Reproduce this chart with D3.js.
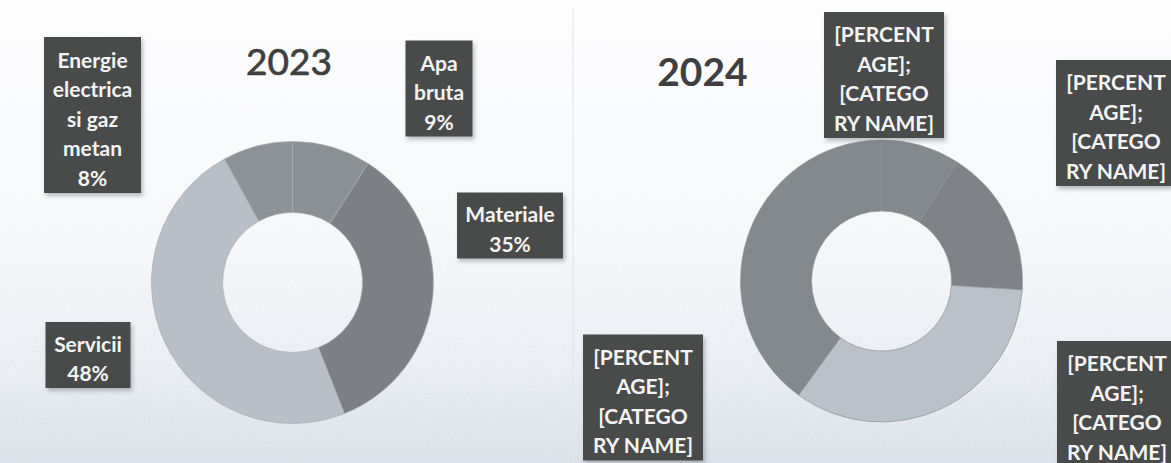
<!DOCTYPE html>
<html>
<head>
<meta charset="utf-8">
<script src="https://cdn.jsdelivr.net/npm/d3@7/dist/d3.min.js"></script>
<style>
  html, body { margin: 0; padding: 0; background: #ffffff; }
  svg { display: block; }
</style>
</head>
<body>
<svg id="chart" width="1171" height="463"></svg>
<script>
// ---------------- DATA ----------------
const categories = ["Apa bruta", "Materiale", "Servicii", "Energie electrica si gaz metan"];
const values2023 = [9, 35, 48, 8];
const values2024 = [9, 17, 34, 40];
const years = ["2023", "2024"];
// label text lines (category part) for 2023; 2024 shows unfilled placeholders
const labelLines2023 = [["Apa", "bruta"], ["Materiale"], ["Servicii"], ["Energie", "electrica", "si gaz", "metan"]];
const placeholderLines = ["[PERCENT", "AGE];", "[CATEGO", "RY NAME]"];

// ---------------- LAYOUT / STYLE ----------------
const W = 1171, H = 463;
const svg = d3.select("#chart");
const defs = svg.append("defs");

const bg = defs.append("linearGradient").attr("id", "bg").attr("x1", 0).attr("y1", 0).attr("x2", 0).attr("y2", 1);
bg.append("stop").attr("offset", "0%").attr("stop-color", "#fdfdfe");
bg.append("stop").attr("offset", "50%").attr("stop-color", "#f7f8fa");
bg.append("stop").attr("offset", "80%").attr("stop-color", "#eceff3");
bg.append("stop").attr("offset", "100%").attr("stop-color", "#dde3ea");

const sh = defs.append("filter").attr("id", "shadow").attr("x", "-20%").attr("y", "-20%").attr("width", "140%").attr("height", "140%");
sh.append("feDropShadow").attr("dx", 2).attr("dy", 3).attr("stdDeviation", 2)
  .attr("flood-color", "#6a7078").attr("flood-opacity", 0.45);

// scan-like speckle
const nz = defs.append("filter").attr("id", "noise").attr("x", 0).attr("y", 0).attr("width", "100%").attr("height", "100%");
nz.append("feTurbulence").attr("type", "fractalNoise").attr("baseFrequency", 0.9).attr("numOctaves", 2).attr("seed", 3).attr("result", "t");
nz.append("feColorMatrix").attr("in", "t").attr("type", "matrix")
  .attr("values", "0 0 0 0 0.62  0 0 0 0 0.68  0 0 0 0 0.76  0 0 0 -2.2 1.25");

const fade = defs.append("linearGradient").attr("id", "fade").attr("x1", 0).attr("y1", 0).attr("x2", 0).attr("y2", 1);
fade.append("stop").attr("offset", "0%").attr("stop-color", "#fff").attr("stop-opacity", 0);
fade.append("stop").attr("offset", "55%").attr("stop-color", "#fff").attr("stop-opacity", 0.15);
fade.append("stop").attr("offset", "100%").attr("stop-color", "#fff").attr("stop-opacity", 0.9);
const mask = defs.append("mask").attr("id", "noiseMask");
mask.append("rect").attr("width", W).attr("height", H).attr("fill", "url(#fade)");

svg.append("rect").attr("width", W).attr("height", H).attr("fill", "url(#bg)");
svg.append("rect").attr("width", W).attr("height", H).attr("filter", "url(#noise)").attr("mask", "url(#noiseMask)").attr("opacity", 0.55);
// divider between the two pasted charts
svg.append("line").attr("x1", 573).attr("x2", 573).attr("y1", 8).attr("y2", H)
  .attr("stroke", "#e3e7eb").attr("stroke-width", 1.2);

const charts = [
  {
    values: values2023,
    cx: 292.5, cy: 282.5,
    colors: ["#8b9095", "#7c8085", "#b8bfc6", "#8d9297"],
    stroke: "#a9aeb3",
    title: { text: years[0], x: 289, y: 75, size: 37, weight: 400, sw: 0.7 },
    labels: values2023.map((v, i) => labelLines2023[i].concat([v + "%"])),
    offsets: [[146.5, -194], [217.5, -57], [-204.5, 72.5], [-200, -167.5]],
    fixedWidth: null
  },
  {
    values: values2024,
    cx: 881.5, cy: 281,
    colors: ["#84898e", "#7f8388", "#bac1c8", "#84898e"],
    stroke: "#8e9398",
    title: { text: years[1], x: 702.5, y: 86, size: 39, weight: 700, sw: 0 },
    labels: values2024.map(() => placeholderLines),
    offsets: [[2.5, -206], [234.5, -158], [235.5, 123], [-238.5, 116.5]],
    fixedWidth: 120
  }
];

const outerR = 141, innerR = 70;
const pie = d3.pie().sort(null).value(d => d);
const arc = d3.arc().innerRadius(innerR).outerRadius(outerR);
const lineH = 29.5, fontSize = 21;

charts.forEach(c => {
  const g = svg.append("g").attr("transform", `translate(${c.cx},${c.cy})`);
  g.selectAll("path.slice")
    .data(pie(c.values))
    .join("path")
    .attr("class", "slice")
    .attr("d", arc)
    .attr("fill", (d, i) => c.colors[i])
    .attr("stroke", c.stroke)
    .attr("stroke-width", 0.7);

  svg.append("text")
    .attr("x", c.title.x).attr("y", c.title.y)
    .attr("text-anchor", "middle")
    .attr("font-family", "Lato, 'Open Sans', sans-serif")
    .attr("font-size", c.title.size)
    .attr("font-weight", c.title.weight)
    .attr("fill", "#3f3f3f")
    .attr("stroke", "#3f3f3f")
    .attr("stroke-width", c.title.sw)
    .text(c.title.text);

  c.labels.forEach((lines, i) => {
    const lx = c.cx + c.offsets[i][0], ly = c.cy + c.offsets[i][1];
    const lg = svg.append("g").attr("transform", `translate(${lx},${ly})`);
    const rect = lg.append("rect").attr("fill", "#4a4b4c").attr("filter", "url(#shadow)");
    const t = lg.append("text")
      .attr("text-anchor", "middle")
      .attr("font-family", "Lato, 'Open Sans', sans-serif")
      .attr("font-size", fontSize)
      .attr("font-weight", 700)
      .attr("fill", "#f4f4f4");
    lines.forEach((s, k) => {
      t.append("tspan")
        .attr("x", 0)
        .attr("y", (k - (lines.length - 1) / 2) * lineH + 3)
        .attr("dominant-baseline", "central")
        .text(s);
    });
    const bb = t.node().getBBox();
    const w = c.fixedWidth || Math.round(bb.width + 17);
    const h = lines.length * 30 + 6;
    rect.attr("x", -w / 2).attr("y", -h / 2).attr("width", w).attr("height", h);
  });
});
</script>
</body>
</html>
